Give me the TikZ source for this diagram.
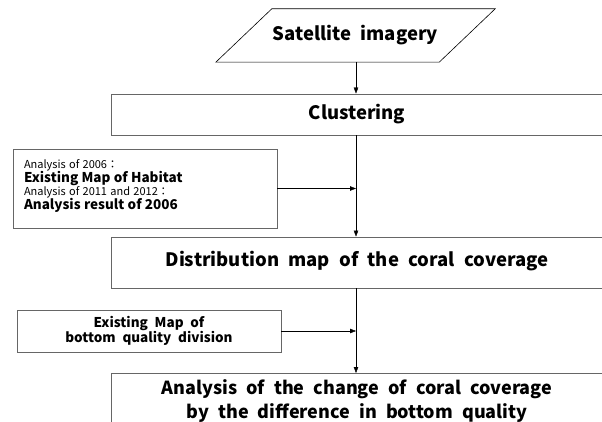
\documentclass[tikz,border=0pt]{standalone}
\usepackage{fontspec}
\setmainfont[WordSpace=2.2]{Noto Sans CJK JP}
\usetikzlibrary{arrows.meta}
\newcommand\notefont{\fontsize{11}{12}\selectfont}
\newcommand\keyfont{\bfseries\fontsize{13.5}{13}\selectfont}

\begin{document}
\begin{tikzpicture}[x=1pt, y=-1pt, >={Triangle[length=6pt,width=4.5pt]},
    box/.style={draw=black!60, line width=0.9pt, rectangle, inner sep=0pt},
    big/.style={font=\bfseries\fontsize{18.5}{24}\selectfont}]
    \useasboundingbox (0,0) rectangle (602,422);
    % main column
    \node [big, minimum width=223pt, minimum height=53pt, inner sep=0pt] (sat) at (355.5,35.5) {Satellite imagery};
    \draw [line width=0.6pt] ([xshift=28pt]sat.north west) -- ([xshift=28pt]sat.north east)
        -- ([xshift=-28pt]sat.south east) -- ([xshift=-28pt]sat.south west) -- cycle;
    \node [box, big, minimum width=492pt, minimum height=41pt] (clu) at (357,114.5) {Clustering};
    \node [box, big, minimum width=492pt, minimum height=51pt, text depth=7pt] (dist) at (357,262.5) {Distribution map of the coral coverage};
    \node [box, big, font=\bfseries\fontsize{18}{24}\selectfont, minimum width=492pt, anchor=north, align=center, inner sep=6pt] (res) at (357,373)
        {Analysis of the change of coral coverage\\by the difference in bottom quality};
    % side inputs
    \node [box, minimum width=264pt, minimum height=79pt, align=left, text width=242pt] (hab) at (145,188.5)
        {{\notefont Analysis of 2006：}\\[-1pt] {\keyfont Existing Map of Habitat}\\[0pt]
         {\notefont Analysis of 2011 and 2012：}\\[-1pt] {\keyfont Analysis result of 2006}\\[-4pt]\mbox{}};
    \node [box, font=\keyfont, minimum width=264pt, minimum height=42pt, align=center] (bqd) at (149,331)
        {Existing Map of\\bottom quality division};
    \coordinate (j1) at (356,188.5);
    \coordinate (j2) at (356,331);
    % connectors
    \draw [->] (sat.south -| j1) -- (clu.north -| j1);
    \draw [->] (clu.south -| j1) -- (dist.north -| j1);
    \draw [->] (dist.south -| j2) -- (res.north -| j2);
    \draw [->] (hab.east) -- (j1);
    \draw [->] (bqd.east) -- (j2);
\end{tikzpicture}
\end{document}
